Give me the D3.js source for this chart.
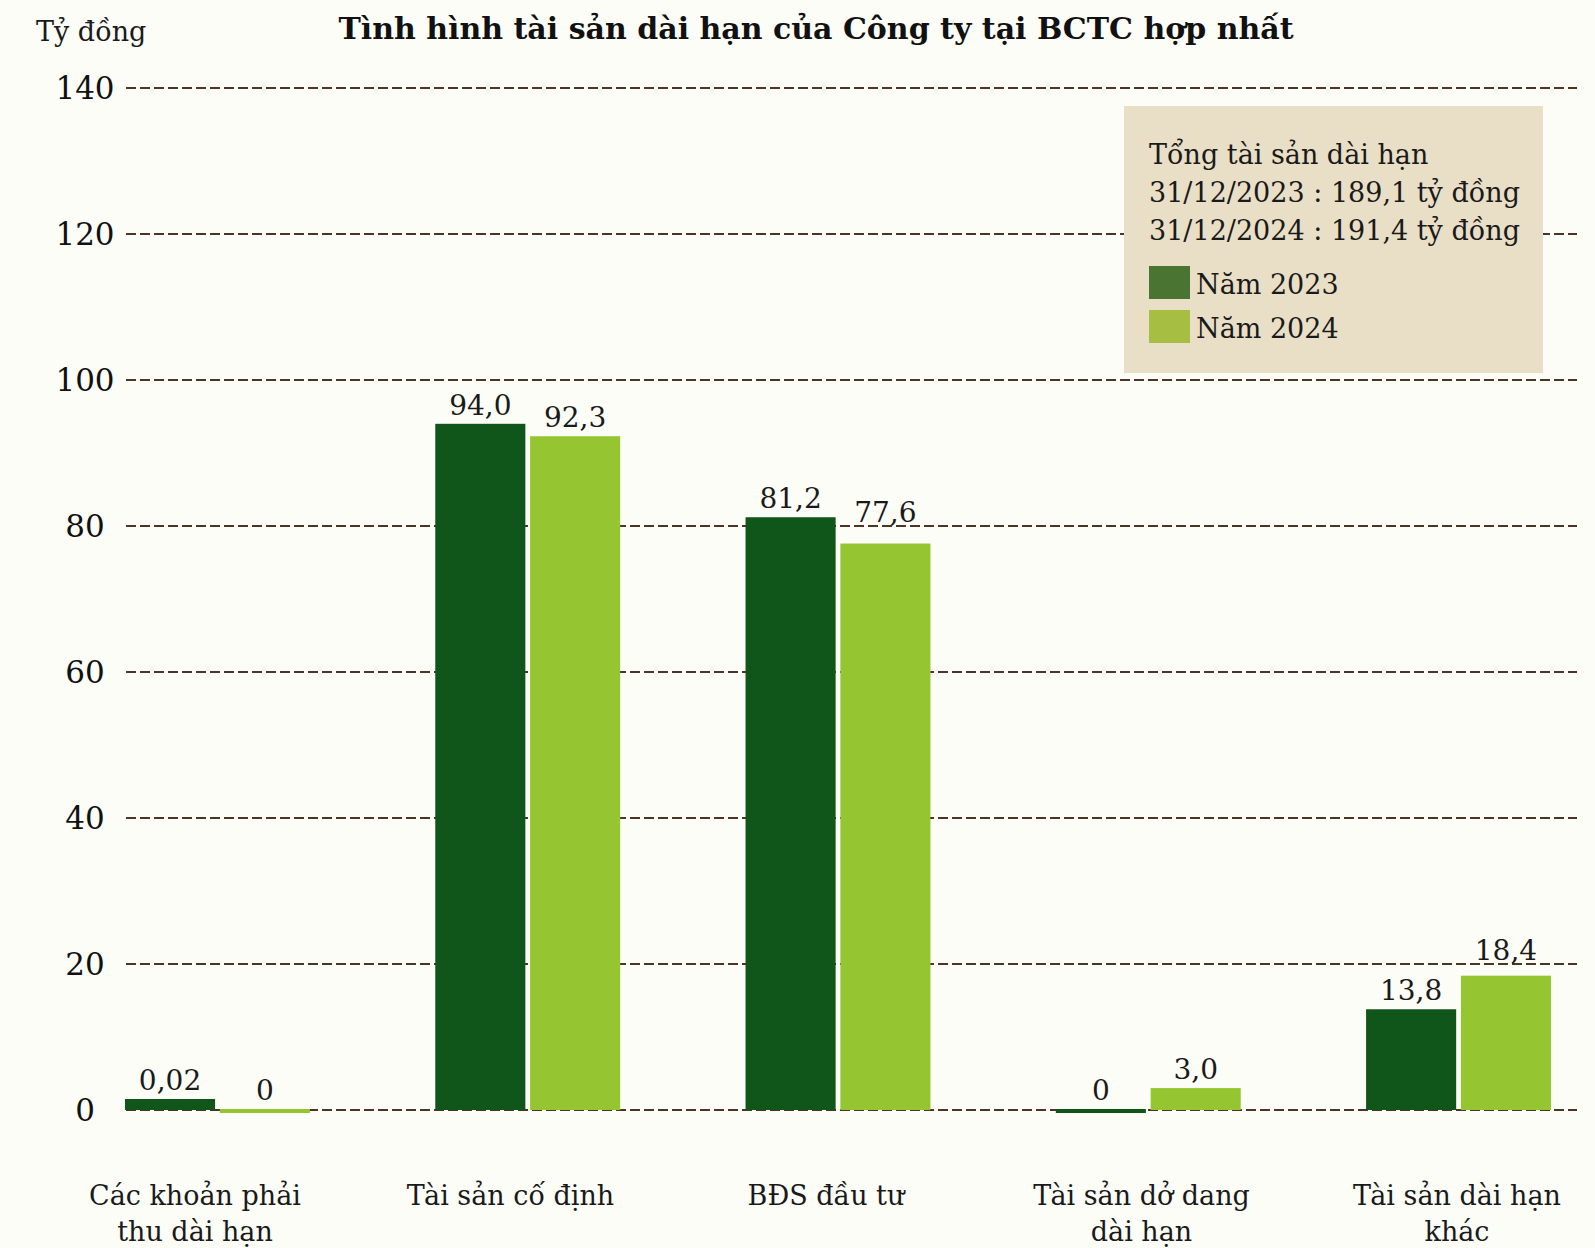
<!DOCTYPE html>
<html lang="vi">
<head>
<meta charset="UTF-8">
<title>Tình hình tài sản dài hạn của Công ty tại BCTC hợp nhất</title>
<style>
* { margin: 0; padding: 0; box-sizing: border-box; }
body { background: #fdfdf8; width: 1595px; height: 1248px; overflow: hidden; }
svg { display: block; font-family: "DejaVu Serif", serif; }
.grid line { stroke: #4f3426; stroke-width: 2; stroke-dasharray: 10 4; }
.y-axis text { fill: #111; }
.bar-label { font-size: 28px; fill: #1a1a1a; text-anchor: middle; }
.cat-label { font-size: 27px; fill: #1a1a1a; text-anchor: middle; }
.legend text { font-size: 27px; fill: #1a1a1a; }
</style>
</head>
<body>
<div id="chart"></div>
<script src="https://cdn.jsdelivr.net/npm/d3@7"></script>
<script>
(function() {
	var categories = [
		["Các khoản phải", "thu dài hạn"],
		["Tài sản cố định"],
		["BĐS đầu tư"],
		["Tài sản dở dang", "dài hạn"],
		["Tài sản dài hạn", "khác"]
	];
	var years = ["2023", "2024"];
	var values2023 = [0.02, 94.0, 81.2, 0, 13.8];
	var values2024 = [0, 92.3, 77.6, 3.0, 18.4];
	var yTicks = [0, 20, 40, 60, 80, 100, 120, 140];
	var summaryLines = [
		"Tổng tài sản dài hạn",
		"31/12/2023 : 189,1 tỷ đồng",
		"31/12/2024 : 191,4 tỷ đồng"
	];
	var legendLabels = ["Năm 2023", "Năm 2024"];

	var barColors = { "2023": "#10561a", "2024": "#95c530" };
	var swatchColors = { "2023": "#4a7431", "2024": "#a6bf42" };

	var width = 1595, height = 1248;
	var catKeys = categories.map(function(c) { return c.join(" "); });

	var svg = d3.select("#chart").append("svg")
		.attr("width", width)
		.attr("height", height);

	var y = d3.scaleLinear().domain([0, 140]).range([1110, 88]);

	var x0 = d3.scaleBand().domain(catKeys).range([125, 1551])
		.paddingInner(0.404).paddingOuter(0);
	var x1 = d3.scaleBand().domain(years).range([0, x0.bandwidth()])
		.paddingInner(0.05);
	// category labels sit slightly left of the bar groups in the original
	var xLabel = d3.scalePoint().domain(catKeys).range([195, 1457]);

	// dashed gridlines
	svg.append("g").attr("class", "grid")
		.selectAll("line").data(yTicks).join("line")
		.attr("x1", 126).attr("x2", 1577)
		.attr("y1", function(d) { return y(d); })
		.attr("y2", function(d) { return y(d); });

	// y tick labels
	var yAxis = svg.append("g").attr("class", "y-axis")
		.attr("transform", "translate(85,0)")
		.call(d3.axisLeft(y).tickValues(yTicks).tickSize(0).tickPadding(0)
			.tickFormat(function(d) { return d; }));
	yAxis.select(".domain").remove();
	yAxis.selectAll("text")
		.attr("text-anchor", "middle")
		.attr("x", 0)
		.attr("dy", "0.33em")
		.attr("font-family", "DejaVu Serif")
		.attr("font-size", 31);

	// legend box
	var legend = svg.append("g").attr("class", "legend");
	legend.append("rect")
		.attr("x", 1124).attr("y", 106)
		.attr("width", 419).attr("height", 267)
		.attr("fill", "#e9dfc6");
	legend.selectAll("text.summary").data(summaryLines).join("text")
		.attr("class", "summary")
		.attr("x", 1149)
		.attr("y", function(d, i) { return 164 + i * 38; })
		.text(function(d) { return d; });
	var legendItems = legend.selectAll("g.item").data(years).join("g")
		.attr("class", "item")
		.attr("transform", function(d, i) { return "translate(1149," + (266 + i * 44) + ")"; });
	legendItems.append("rect")
		.attr("width", 41).attr("height", 33)
		.attr("fill", function(d) { return swatchColors[d]; });
	legendItems.append("text")
		.attr("x", 47).attr("y", 28)
		.text(function(d, i) { return legendLabels[i]; });

	// bars
	var rows = catKeys.map(function(k, i) {
		return { key: k, vals: [
			{ year: "2023", v: values2023[i] },
			{ year: "2024", v: values2024[i] }
		] };
	});

	function barTop(d) {
		if (d.v === 0) return y(0) - 1;
		return Math.min(y(d.v), y(0) - 11);
	}
	function barBottom(d) {
		return d.v === 0 ? y(0) + 3 : y(0);
	}
	// value labels are lifted above a gridline they would otherwise cross
	function labelY(d) {
		var base = barTop(d) - 9;
		yTicks.forEach(function(t) {
			var gy = y(t);
			if (gy > base - 22 && gy < base + 3) base = gy - 4;
		});
		return base;
	}
	function fmt(v) {
		if (v === 0) return "0";
		return (v < 0.1 ? v.toFixed(2) : v.toFixed(1)).replace(".", ",");
	}

	var groups = svg.append("g").selectAll("g").data(rows).join("g")
		.attr("transform", function(d) { return "translate(" + x0(d.key) + ",0)"; });

	groups.selectAll("rect").data(function(d) { return d.vals; }).join("rect")
		.attr("x", function(d) { return x1(d.year); })
		.attr("width", x1.bandwidth())
		.attr("y", barTop)
		.attr("height", function(d) { return barBottom(d) - barTop(d); })
		.attr("fill", function(d) { return barColors[d.year]; });

	groups.selectAll("text").data(function(d) { return d.vals; }).join("text")
		.attr("class", "bar-label")
		.attr("x", function(d) { return x1(d.year) + x1.bandwidth() / 2; })
		.attr("y", labelY)
		.text(function(d) { return fmt(d.v); });

	// category labels
	svg.append("g").selectAll("text").data(categories).join("text")
		.attr("class", "cat-label")
		.attr("x", function(d) { return xLabel(d.join(" ")); })
		.attr("y", 1205)
		.each(function(d) {
			var t = d3.select(this);
			d.forEach(function(line, i) {
				t.append("tspan")
					.attr("x", xLabel(d.join(" ")))
					.attr("dy", i === 0 ? 0 : 36)
					.text(line);
			});
		});

	// unit and title
	svg.append("text")
		.attr("x", 36).attr("y", 41)
		.attr("font-size", 27).attr("fill", "#1a1a1a")
		.text("Tỷ đồng");
	svg.append("text")
		.attr("x", 816).attr("y", 39)
		.attr("text-anchor", "middle")
		.attr("font-size", 30).attr("font-weight", "bold").attr("fill", "#111")
		.text("Tình hình tài sản dài hạn của Công ty tại BCTC hợp nhất");
})();
</script>
</body>
</html>
